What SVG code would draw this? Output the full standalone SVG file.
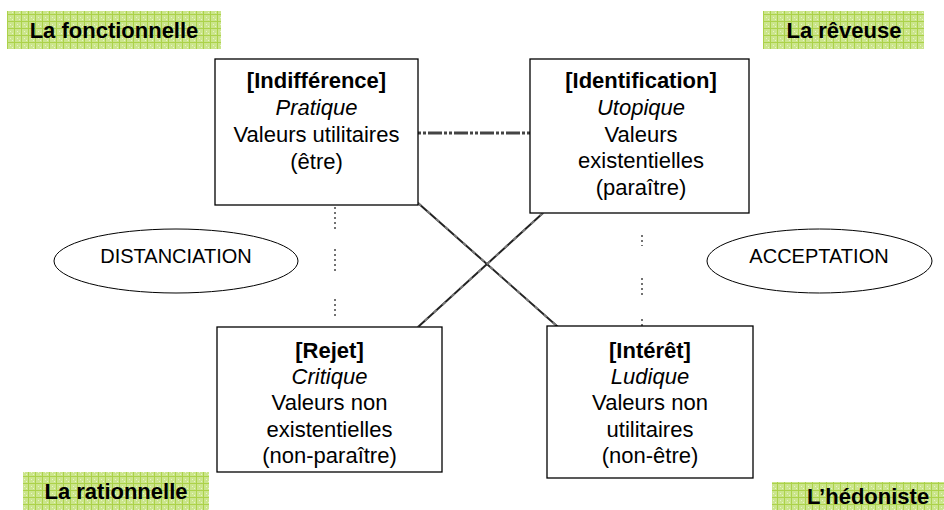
<svg xmlns="http://www.w3.org/2000/svg" width="944" height="510" viewBox="0 0 944 510">
<defs>
<pattern id="grid" width="7" height="7" patternUnits="userSpaceOnUse">
<rect width="7" height="7" fill="#cbe58c"/>
<rect x="0" y="0" width="7" height="1" fill="#acd24a"/>
<rect x="0" y="0" width="1" height="7" fill="#acd24a"/>
<rect x="3" y="3" width="1" height="1" fill="#e8f4c8"/>
<rect x="5" y="5" width="1" height="1" fill="#e8f4c8"/>
</pattern>
</defs>
<style>
.box{fill:#fff;stroke:#000;stroke-width:1.3}
.t{font-family:"Liberation Sans",Arial,sans-serif;font-size:22px;text-anchor:middle;fill:#000}
.b{font-weight:bold}
.i{font-style:italic}
.lbl{fill:url(#grid)}
.lt{font-family:"Liberation Sans",Arial,sans-serif;font-size:22px;font-weight:bold;text-anchor:middle;fill:#000}
.ell{fill:#fff;stroke:#000;stroke-width:1}
.et{font-family:"Liberation Sans",Arial,sans-serif;font-size:20px;text-anchor:middle;fill:#000}
.dot{stroke:#444;stroke-width:1.5;stroke-dasharray:2,3;fill:none}
.cross{stroke:#222;stroke-width:2;fill:none}
.crossg{stroke:#777;stroke-width:2;stroke-dasharray:4,8;fill:none}
</style>

<g id="connectors">
<line x1="418" y1="133" x2="530" y2="133" stroke="#444" stroke-width="3" stroke-dasharray="3,2,3,2,14,2"/>
<line class="dot" x1="335" y1="207" x2="335" y2="231"/>
<line class="dot" x1="335" y1="249" x2="335" y2="273"/>
<line class="dot" x1="335" y1="299" x2="335" y2="317"/>
<line class="dot" x1="642" y1="235" x2="642" y2="246"/>
<line class="dot" x1="642" y1="278" x2="642" y2="296"/>
<line class="dot" x1="642" y1="319" x2="642" y2="326"/>
<line class="cross" x1="418" y1="203" x2="558" y2="327"/>
<line class="crossg" x1="418" y1="203" x2="558" y2="327"/>
<line class="cross" x1="543" y1="213" x2="418" y2="327"/>
<line class="crossg" x1="543" y1="213" x2="418" y2="327"/>
</g>

<g id="label-fonctionnelle">
<rect class="lbl" x="7" y="11" width="214" height="38"/>
<text class="lt" x="114" y="38">La fonctionnelle</text>
</g>
<g id="label-reveuse">
<rect class="lbl" x="763" y="11" width="161" height="38"/>
<text class="lt" x="844" y="38">La rêveuse</text>
</g>
<g id="label-rationnelle">
<rect class="lbl" x="23" y="472" width="186" height="38"/>
<text class="lt" x="116" y="499">La rationnelle</text>
</g>
<g id="label-hedoniste">
<rect class="lbl" x="772" y="482" width="172" height="28"/>
<text class="lt" x="868" y="504">L’hédoniste</text>
</g>

<g id="node-indifference">
<rect class="box" x="215" y="59" width="203" height="146"/>
<text class="t b" x="316.5" y="88">[Indifférence]</text>
<text class="t i" x="316.5" y="115">Pratique</text>
<text class="t" x="316.5" y="142">Valeurs utilitaires</text>
<text class="t" x="316.5" y="169">(être)</text>
</g>

<g id="node-identification">
<rect class="box" x="530" y="59" width="219" height="154"/>
<text class="t b" x="641" y="88">[Identification]</text>
<text class="t i" x="641" y="115">Utopique</text>
<text class="t" x="641" y="142">Valeurs</text>
<text class="t" x="641" y="168">existentielles</text>
<text class="t" x="641" y="195">(paraître)</text>
</g>

<g id="node-rejet">
<rect class="box" x="217" y="327" width="225" height="145"/>
<text class="t b" x="329.5" y="358">[Rejet]</text>
<text class="t i" x="329.5" y="384">Critique</text>
<text class="t" x="329.5" y="410">Valeurs non</text>
<text class="t" x="329.5" y="437">existentielles</text>
<text class="t" x="329.5" y="463">(non-paraître)</text>
</g>

<g id="node-interet">
<rect class="box" x="547" y="326" width="206" height="152"/>
<text class="t b" x="650" y="358">[Intérêt]</text>
<text class="t i" x="650" y="384">Ludique</text>
<text class="t" x="650" y="410">Valeurs non</text>
<text class="t" x="650" y="437">utilitaires</text>
<text class="t" x="650" y="463">(non-être)</text>
</g>

<g id="node-distanciation">
<ellipse class="ell" cx="176" cy="261" rx="122" ry="32"/>
<text class="et" x="176" y="263">DISTANCIATION</text>
</g>

<g id="node-acceptation">
<ellipse class="ell" cx="819.5" cy="261" rx="112.5" ry="32"/>
<text class="et" x="819" y="263">ACCEPTATION</text>
</g>
</svg>
